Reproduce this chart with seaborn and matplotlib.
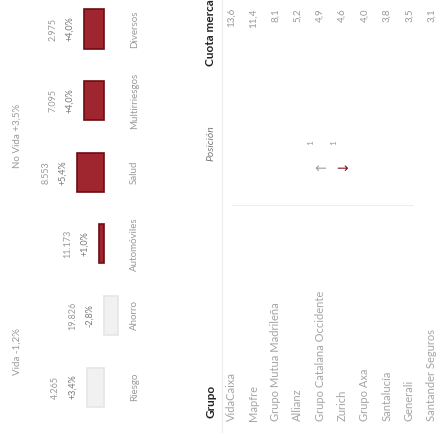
import pandas as pd
import matplotlib.pyplot as plt
import seaborn as sns

# Datos del gráfico de barras (variación de primas por ramo)
ramos = ['Diversos', 'Multirriesgos', 'Salud', 'Automóviles', 'Ahorro', 'Riesgo']
variacion = [4.0, 4.0, 5.4, 1.0, -2.8, 3.4]
primas = ['2.975', '7.095', '8.553', '11.173', '19.826', '4.265']
etiquetas_var = ['+4,0%', '+4,0%', '+5,4%', '+1,0%', '-2,8%', '+3,4%']
grupo_ramo = ['No Vida', 'No Vida', 'No Vida', 'No Vida', 'Vida', 'Vida']
titulos = {'No Vida': 'No Vida +3,5%', 'Vida': 'Vida -1,2%'}

# Datos de la tabla
grupos = ['VidaCaixa', 'Mapfre', 'Grupo Mutua Madrileña', 'Allianz',
          'Grupo Catalana Occidente', 'Zurich', 'Grupo Axa', 'Santalucía',
          'Generali', 'Santander Seguros']
posicion = ['', '', '', '', '↑', '↓', '', '', '', '']
cambio = ['', '', '', '', '1', '1', '', '', '', '']
cuota = ['13,6', '11,4', '8,1', '5,2', '4,9', '4,6', '4,0', '3,8', '3,5', '3,1']

df = pd.DataFrame({'ramo': ramos, 'variacion': variacion, 'grupo': grupo_ramo})

colores = {r: ('#b3121d' if g == 'No Vida' else '#f1f1f1') for r, g in zip(ramos, grupo_ramo)}
bordes = {r: ('#6e0b12' if g == 'No Vida' else '#e6e6e6') for r, g in zip(ramos, grupo_ramo)}

sns.set_style('white')
plt.rcParams['font.family'] = ['Lato', 'DejaVu Sans']

W, H = 439, 433
fig = plt.figure(figsize=(W / 100, H / 100), dpi=100)
ax = fig.add_axes([0, 0, 1, 1])

sns.barplot(data=df, x='variacion', y='ramo', order=ramos, hue='ramo',
            hue_order=ramos, palette=colores, width=0.545, orient='h',
            legend=False, ax=ax)
for p, r in zip(ax.patches, ramos):
    p.set_edgecolor(bordes[r])
    p.set_linewidth(1.2)

# eje invertido: valores positivos hacia la izquierda
ax.set_xlim(20.8, -67)
ax.set_ylim(5.642, -0.405)
ax.axis('off')

gris = '#9a9a9a'
for i, (v, p1, p2) in enumerate(zip(variacion, primas, etiquetas_var)):
    top = max(v, 0)
    ax.annotate(p2, xy=(top, i), xytext=(-10, 0), textcoords='offset points',
                rotation=90, ha='center', va='center', fontsize=6.5, color='#777777')
    ax.annotate(p1, xy=(top, i), xytext=(-22.5, 0), textcoords='offset points',
                rotation=90, ha='center', va='center', fontsize=6.5, color=gris)
    ax.annotate(ramos[i], xy=(0, i), xytext=(22, 0), textcoords='offset points',
                rotation=90, ha='center', va='center', fontsize=7, color=gris)

for g, t in titulos.items():
    idx = [i for i, gg in enumerate(grupo_ramo) if gg == g]
    ax.text(17 / W, sum(idx) / len(idx), t, transform=ax.get_yaxis_transform(),
            rotation=90, ha='center', va='center', fontsize=7, color=gris)

# Tabla
def fx(px):
    return px / W

def fy(py):
    return (H - py) / H

hx = 211
fig.text(fx(hx), fy(418), 'Grupo', rotation=90, ha='center', va='bottom',
         fontsize=8.5, fontweight='bold', color='#222222')
fig.text(fx(hx), fy(143), 'Posición', rotation=90, ha='center', va='center',
         fontsize=7.5, fontstyle='italic', color='#7a7a7a')
fig.text(fx(hx), fy(66), 'Cuota mercado', rotation=90, ha='center', va='bottom',
         fontsize=8.5, fontweight='bold', color='#222222')

fig.add_artist(plt.Line2D([fx(222), fx(222)], [0, 1], color='#ededed', lw=0.8))
fig.add_artist(plt.Line2D([fx(232), fx(H - 20)], [fy(205), fy(205)], color='#ededed', lw=0.8))

for i, (g, pos, c, q) in enumerate(zip(grupos, posicion, cambio, cuota)):
    x = 231 + 22.3 * i
    fig.text(fx(x), fy(421), g, rotation=90, ha='center', va='bottom',
             fontsize=8, color='#a5a5a5')
    if pos:
        col = '#a0a0a0' if pos == '↑' else '#8e1522'
        fig.text(fx(x), fy(165), pos, rotation=90, ha='center', va='center',
                 fontsize=10, color=col, family=['DejaVu Sans'])
        fig.text(fx(x - 9), fy(143), c, rotation=90, ha='center', va='center',
                 fontsize=6, color='#999999')
    fig.text(fx(x), fy(8), q, rotation=90, ha='center', va='top',
             fontsize=7, color='#999999')

fig.savefig('out.png', dpi=100)
plt.close(fig)
